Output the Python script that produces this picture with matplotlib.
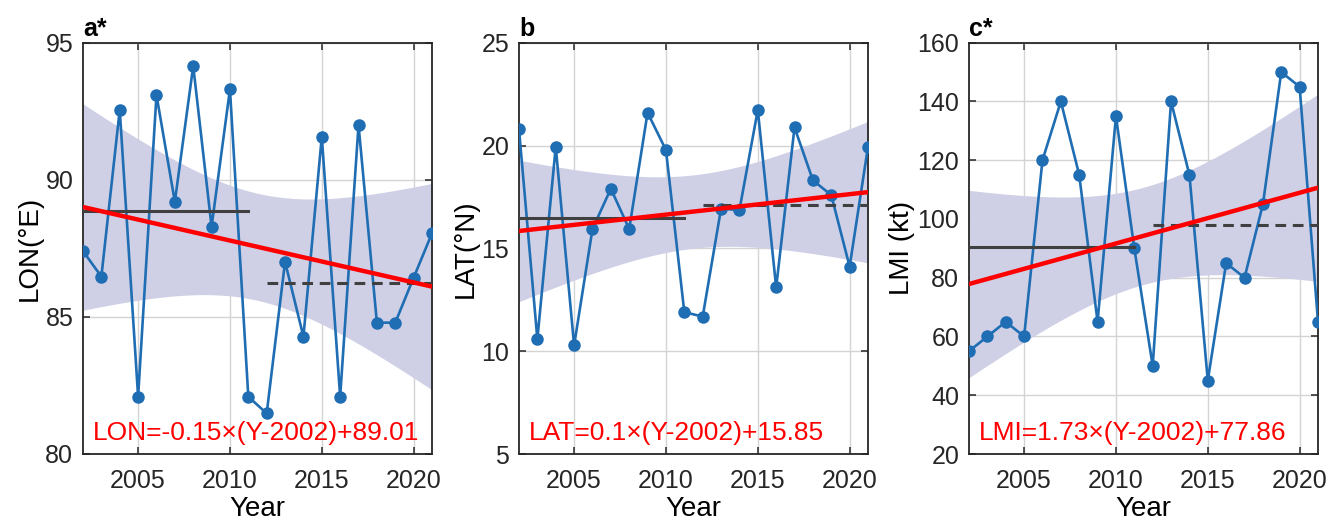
#!/usr/bin/env python3
"""Three-panel trend plot of annual LON / LAT / LMI with linear fit and 95% band."""

import matplotlib
matplotlib.use("Agg")
import matplotlib.pyplot as plt
import numpy as np

plt.rcParams["font.family"] = ["Liberation Sans", "DejaVu Sans"]

years = np.arange(2002, 2022)

lon = [87.4, 86.47, 92.55, 82.09, 93.09, 89.2, 94.15, 88.29, 93.3, 82.09,
       81.48, 87.01, 84.28, 91.57, 82.09, 92.0, 84.79, 84.79, 86.43, 88.05]
lat = [20.79, 10.58, 19.94, 10.28, 15.94, 17.9, 15.94, 21.6, 19.78, 11.9,
       11.68, 16.93, 16.86, 21.73, 13.1, 20.88, 18.31, 17.59, 14.11, 19.94]
lmi = [55, 60, 65, 60, 120, 140, 115, 65, 135, 90,
       50, 140, 115, 45, 85, 80, 105, 150, 145, 65]

panel_tags = ["a*", "b", "c*"]
ylabels = ["LON(°E)", "LAT(°N)", "LMI (kt)"]
equations = ["LON=-0.15×(Y-2002)+89.01",
             "LAT=0.1×(Y-2002)+15.85",
             "LMI=1.73×(Y-2002)+77.86"]
ylims = [(80, 95), (5, 25), (20, 160)]
yticks = [[80, 85, 90, 95], [5, 10, 15, 20, 25], [20, 40, 60, 80, 100, 120, 140, 160]]

T95 = 2.101  # t(0.975, df=18)
BLUE = "#1f6db3"
GRAY = "#404040"
BAND = "#cfd0e6"

lefts = [83 / 1331, 519 / 1331, 969 / 1331]
width = 349 / 1331
bottom = 1 - 454 / 522
height = 411.3 / 522

fig = plt.figure(figsize=(13.31, 5.22), dpi=100)

for i, vals in enumerate([lon, lat, lmi]):
    y = np.asarray(vals, dtype=float)
    x = years - 2002
    ax = fig.add_axes([lefts[i], bottom, width, height])

    # linear fit and 95% confidence band of the mean
    slope, icpt = np.polyfit(x, y, 1)
    xf = np.linspace(0, 19, 200)
    fit = slope * xf + icpt
    resid = y - (slope * x + icpt)
    s = np.sqrt(np.sum(resid ** 2) / (len(x) - 2))
    sxx = np.sum((x - x.mean()) ** 2)
    hw = T95 * s * np.sqrt(1 / len(x) + (xf - x.mean()) ** 2 / sxx)
    ax.fill_between(xf + 2002, fit - hw, fit + hw, color=BAND, lw=0, zorder=1)

    ax.plot(years, y, "-o", color=BLUE, lw=1.9, ms=8, zorder=3)

    first, second = years[:10], years[10:]
    ax.plot([first[0], first[-1]], [y[:10].mean()] * 2, color=GRAY, lw=2.2, zorder=4)
    ax.plot([second[0], second[-1]], [y[10:].mean()] * 2, color=GRAY, lw=2.2,
            ls=(0, (3.5, 2.2)), zorder=4)

    ax.plot(xf + 2002, fit, color="red", lw=3.2, zorder=5)

    ax.text(0.029, 0.034, equations[i], transform=ax.transAxes, color="red",
            fontsize=19, ha="left", va="baseline", zorder=6)

    ax.set_xlim(2002, 2021)
    ax.set_ylim(*ylims[i])
    ax.set_xticks([2005, 2010, 2015, 2020])
    ax.set_yticks(yticks[i])
    ax.grid(True, color="#d4d4d4", lw=1.0)
    ax.set_axisbelow(True)
    ax.tick_params(direction="in", length=5, width=1.1, colors="#262626",
                   labelsize=18, top=True, right=True)
    ax.tick_params(axis="x", pad=11)
    ax.tick_params(axis="y", pad=7)
    for sp in ax.spines.values():
        sp.set_color("#262626")
        sp.set_linewidth(1.3)
    ax.set_ylabel(ylabels[i], fontsize=20, labelpad=2)
    ax.set_xlabel("Year", fontsize=20, labelpad=2)
    ax.set_title(panel_tags[i], loc="left", fontsize=18, fontweight="bold", pad=5)

fig.savefig("out.png", dpi=100)
